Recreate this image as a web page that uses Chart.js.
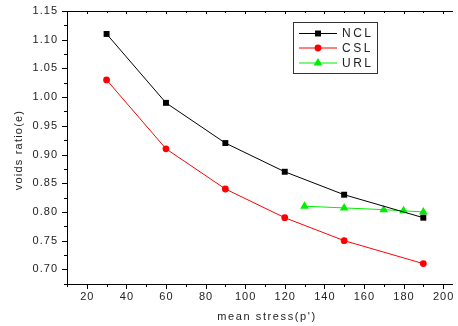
<!DOCTYPE html>
<html>
<head>
<meta charset="utf-8">
<script src="https://cdn.jsdelivr.net/npm/chart.js@4.4.1/dist/chart.umd.min.js"></script>
<style>
  html, body { margin: 0; padding: 0; background: #fff; }
  #wrap { width: 458px; height: 326px; }
</style>
</head>
<body>
<div id="wrap"><canvas id="chart" width="458" height="326"></canvas></div>
<script>
// data
const nclX = [30, 60, 90, 120, 150, 190];
const nclY = [1.11, 0.99, 0.92, 0.87, 0.83, 0.79];
const cslX = [30, 60, 90, 120, 150, 190];
const cslY = [1.03, 0.91, 0.84, 0.79, 0.75, 0.71];
const urlX = [130, 150, 170, 180, 190];
const urlY = [0.81, 0.807, 0.804, 0.802, 0.8];

const xTicks = [20, 40, 60, 80, 100, 120, 140, 160, 180, 200];
const yTicks = [0.7, 0.75, 0.8, 0.85, 0.9, 0.95, 1.0, 1.05, 1.1, 1.15];

const seriesNames = ["NCL", "CSL", "URL"];
const seriesColors = ["#000000", "#ff0000", "#00ee00"];
const seriesStyles = ["rect", "circle", "triangle"];
const seriesRadius = [4.2, 3.4, 5];

function toPoints(xs, ys) {
  return xs.map((x, i) => ({ x: x, y: ys[i] }));
}

// axes, ticks, labels and legend drawn from the chart's own scales
const axisPlugin = {
  id: "originAxes",
  afterDraw(chart) {
    const ctx = chart.ctx;
    const xs = chart.scales.x;
    const ys = chart.scales.y;
    const area = chart.chartArea;
    ctx.save();
    ctx.strokeStyle = "#000";
    ctx.lineWidth = 1;

    // frame: left, bottom, top
    ctx.beginPath();
    ctx.moveTo(area.left + 0.5, area.top + 0.5);
    ctx.lineTo(area.left + 0.5, area.bottom + 0.5);
    ctx.lineTo(area.right, area.bottom + 0.5);
    ctx.moveTo(area.left + 0.5, area.top + 0.5);
    ctx.lineTo(area.right, area.top + 0.5);
    ctx.stroke();

    // x ticks (major every 20, minor every 10)
    ctx.beginPath();
    for (let v = 10; v <= xs.max; v += 10) {
      const px = Math.round(xs.getPixelForValue(v)) + 0.5;
      const major = v % 20 === 0;
      ctx.moveTo(px, area.bottom);
      ctx.lineTo(px, area.bottom + (major ? 5 : 3));
      ctx.moveTo(px, area.top);
      ctx.lineTo(px, area.top + (major ? 3 : 2));
    }
    // y ticks (major every 0.05, minor every 0.025)
    for (let i = 0; i < yTicks.length; i++) {
      const py = Math.round(ys.getPixelForValue(yTicks[i])) + 0.5;
      ctx.moveTo(area.left - 5, py);
      ctx.lineTo(area.left, py);
      const mid = yTicks[i] - 0.025;
      if (mid > ys.min) {
        const pm = Math.round(ys.getPixelForValue(mid)) + 0.5;
        ctx.moveTo(area.left - 3, pm);
        ctx.lineTo(area.left, pm);
      }
    }
    ctx.stroke();

    ctx.fillStyle = "#222";
    ctx.font = "11px 'Liberation Sans', Arial, sans-serif";
    ctx.letterSpacing = "1px";
    ctx.textBaseline = "middle";
    ctx.textAlign = "center";
    xTicks.forEach((v) => {
      ctx.fillText(String(v), xs.getPixelForValue(v) + 0.5, area.bottom + 13);
    });
    ctx.textAlign = "right";
    yTicks.forEach((v) => {
      ctx.fillText(v.toFixed(2), area.left - 9, ys.getPixelForValue(v));
    });

    // axis titles
    ctx.textAlign = "center";
    ctx.letterSpacing = "1.6px";
    ctx.fillText("mean stress(p')", 267, 317);
    ctx.letterSpacing = "1.2px";
    ctx.save();
    ctx.translate(19, 150);
    ctx.rotate(-Math.PI / 2);
    ctx.fillText("voids ratio(e)", 0, 0);
    ctx.restore();

    // legend box
    ctx.strokeStyle = "#333";
    ctx.strokeRect(293.5, 22.5, 84, 51);
    const rowY = [33, 47.5, 62.5];
    ctx.textAlign = "left";
    ctx.font = "12px 'Liberation Sans', Arial, sans-serif";
    ctx.letterSpacing = "2.5px";
    for (let i = 0; i < seriesNames.length; i++) {
      ctx.strokeStyle = seriesColors[i];
      ctx.beginPath();
      ctx.moveTo(299, rowY[i] + 0.5);
      ctx.lineTo(337, rowY[i] + 0.5);
      ctx.stroke();
      ctx.fillStyle = seriesColors[i];
      Chart.helpers.drawPoint(ctx, {
        pointStyle: seriesStyles[i],
        radius: seriesRadius[i],
        rotation: 0,
        borderWidth: 0
      }, 318, rowY[i] + 0.5);
      ctx.fillStyle = "#222";
      ctx.fillText(seriesNames[i], 342, rowY[i] + 1);
    }
    ctx.restore();
  }
};

const datasets = [
  toPoints(nclX, nclY),
  toPoints(cslX, cslY),
  toPoints(urlX, urlY)
].map((pts, i) => ({
  label: seriesNames[i],
  data: pts,
  showLine: true,
  borderColor: seriesColors[i],
  backgroundColor: seriesColors[i],
  borderWidth: 1,
  pointStyle: seriesStyles[i],
  pointRadius: seriesRadius[i],
  pointBorderWidth: 0,
  tension: 0
}));

new Chart(document.getElementById("chart"), {
  type: "scatter",
  data: { datasets: datasets },
  options: {
    responsive: false,
    animation: false,
    devicePixelRatio: 1,
    layout: { padding: { left: 67, top: 11, right: 0, bottom: 42 } },
    plugins: { legend: { display: false }, tooltip: { enabled: false } },
    scales: {
      x: { type: "linear", min: 10, max: 205, display: false },
      y: { type: "linear", min: 0.6745, max: 1.15, display: false }
    }
  },
  plugins: [axisPlugin]
});
</script>
</body>
</html>
